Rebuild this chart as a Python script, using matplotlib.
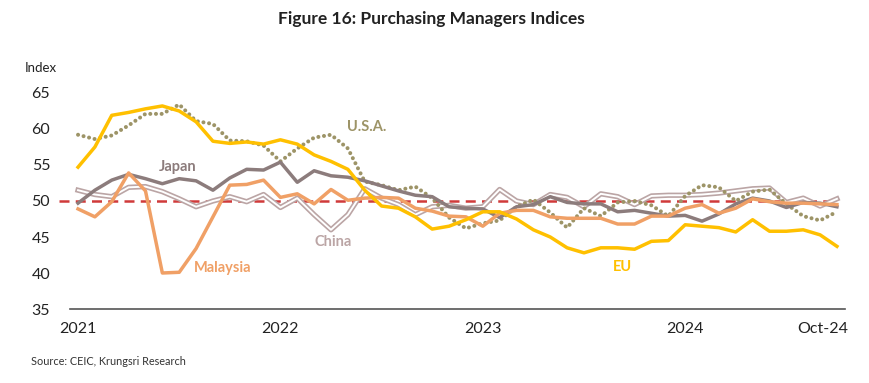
import matplotlib
matplotlib.use("Agg")
import matplotlib.pyplot as plt
from matplotlib.transforms import ScaledTranslation

plt.rcParams['font.family'] = ['Lato', 'DejaVu Sans']

# monthly PMI, Jan 2021 .. Oct 2024
months = list(range(46))
eu = [54.7, 57.5, 61.9, 62.3, 62.8, 63.2, 62.5, 61.0, 58.3, 58.0, 58.2, 57.9,
      58.5, 57.9, 56.4, 55.5, 54.4, 51.5, 49.3, 49.0, 47.8, 46.1, 46.5, 47.4,
      48.5, 48.5, 47.5, 46.0, 45.0, 43.5, 42.8, 43.5, 43.5, 43.3, 44.4, 44.5,
      46.7, 46.5, 46.3, 45.7, 47.4, 45.8, 45.8, 46.0, 45.3, 43.7]
japan = [49.7, 51.5, 52.9, 53.7, 53.1, 52.4, 53.1, 52.8, 51.5, 53.2, 54.4, 54.3,
         55.4, 52.6, 54.2, 53.5, 53.3, 52.8, 52.1, 51.4, 50.8, 50.6, 49.2, 49.0,
         48.9, 47.7, 49.2, 49.5, 50.6, 49.8, 49.6, 49.6, 48.5, 48.7, 48.3, 47.9,
         48.0, 47.2, 48.2, 49.6, 50.4, 50.0, 49.1, 49.8, 49.7, 49.2]
malaysia = [48.9, 47.8, 49.9, 53.9, 51.4, 40.0, 40.1, 43.4, 47.8, 52.2, 52.3, 52.9,
            50.5, 51.0, 49.6, 51.6, 50.1, 50.4, 50.5, 50.4, 49.0, 48.6, 47.9, 47.8,
            46.5, 48.3, 48.7, 48.7, 47.8, 47.6, 47.6, 47.6, 46.8, 46.8, 47.9, 47.9,
            49.0, 49.5, 48.3, 49.0, 50.3, 49.9, 49.7, 49.7, 49.6, 49.5]
usa = [59.2, 58.6, 59.1, 60.5, 62.1, 62.1, 63.4, 61.1, 60.7, 58.4, 58.3, 57.7,
       55.5, 57.3, 58.8, 59.2, 57.3, 52.7, 52.2, 51.5, 52.0, 50.4, 47.7, 46.2,
       46.9, 47.3, 49.2, 50.2, 48.4, 46.3, 49.0, 47.9, 49.8, 50.0, 49.4, 47.9,
       50.7, 52.2, 51.9, 50.0, 51.3, 51.6, 49.6, 47.9, 47.3, 48.5]
china = [51.5, 50.9, 50.6, 51.9, 52.0, 51.3, 50.3, 49.2, 50.0, 50.6, 49.9, 50.9,
         49.1, 50.4, 48.1, 46.0, 48.1, 51.7, 50.4, 49.5, 48.1, 49.2, 49.4, 49.0,
         49.2, 51.6, 50.0, 49.5, 50.9, 50.5, 49.2, 51.0, 50.6, 49.5, 50.7, 50.8,
         50.8, 50.9, 51.1, 51.4, 51.7, 51.8, 49.8, 50.4, 49.3, 50.3]
threshold = 50
tick_pos = [0, 12, 24, 36, 45]
tick_labels = ['2021', '2022', '2023', '2024', 'Oct-24']

c_eu = '#FFC000'
c_japan = '#8C7C7C'
c_malay = '#F0A066'
c_usa = '#9D9467'
c_china = '#BBA5A5'

fig = plt.figure(figsize=(8.7, 3.83), dpi=100)
ax = fig.add_axes([0.080, 0.1932, 0.8917, 0.564])

ax.plot([-1.1, 45], [threshold, threshold], color='#D03A3A', lw=1.8,
        dashes=(4, 2.5), clip_on=False, zorder=1)

ax.plot(months, china, color=c_china, lw=3.8, zorder=2)
ax.plot(months, china, color='white', lw=1.4, zorder=2.1)
ax.plot(months, usa, color=c_usa, lw=2.9, dashes=(0.01, 1.4),
        dash_capstyle='round', zorder=3)
ax.plot(months, japan, color=c_japan, lw=2.5, zorder=4)
ax.plot(months, malaysia, color=c_malay, lw=2.5, zorder=5)
ax.plot(months, eu, color=c_eu, lw=2.5, zorder=6)

lab = dict(fontsize=10.5, fontweight='bold', ha='center', va='center')
ax.text(5.93, 54.7, 'Japan', color=c_japan, **lab)
ax.text(17.1, 60.3, 'U.S.A.', color=c_usa, **lab)
ax.text(15.1, 44.3, 'China', color=c_china, **lab)
ax.text(8.55, 40.7, 'Malaysia', color=c_malay, **lab)
ax.text(32.3, 40.8, 'EU', color=c_eu, **lab)

ax.set_xlim(-0.5, 45.5)
ax.set_ylim(35, 65)
ax.set_yticks(range(35, 70, 5))
ax.set_xticks(tick_pos)
ax.set_xticklabels(tick_labels)
ax.tick_params(axis='y', length=0, pad=14, labelsize=11.5, colors='#222222')
ax.tick_params(axis='x', length=0, pad=9, labelsize=11.5, colors='#222222')
last = ax.get_xticklabels()[-1]
last.set_ha('right')
last.set_transform(last.get_transform() + ScaledTranslation(0.11, 0, fig.dpi_scale_trans))

for s in ['top', 'right', 'left']:
    ax.spines[s].set_visible(False)
ax.spines['bottom'].set_color('#555555')
ax.spines['bottom'].set_linewidth(1.2)

fig.text(0.047, 0.823, 'Index', fontsize=9.5, ha='center', va='center', color='#222222')
fig.text(0.496, 0.95, 'Figure 16: Purchasing Managers Indices', fontsize=12.5,
         fontweight='bold', ha='center', va='center', color='#222222')
fig.text(0.036, 0.055, 'Source: CEIC, Krungsri Research', fontsize=7.8,
         ha='left', va='center', color='#333333')

fig.savefig('out.png', dpi=100)
